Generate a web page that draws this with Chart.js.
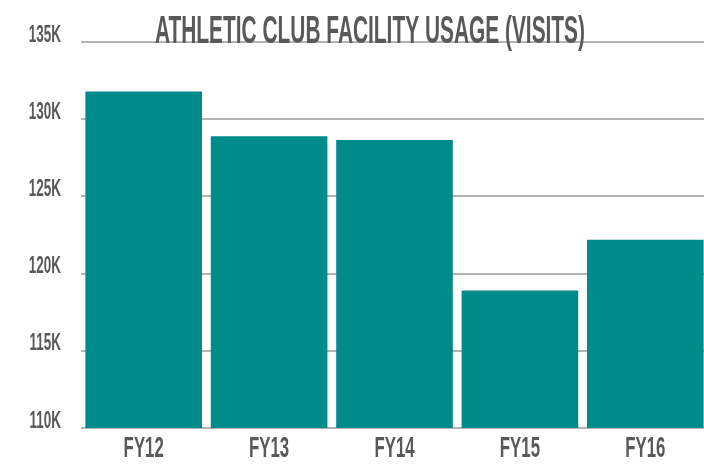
<!DOCTYPE html>
<html>
<head>
<meta charset="utf-8">
<script src="https://cdn.jsdelivr.net/npm/chart.js@4.4.1/dist/chart.umd.min.js"></script>
<style>
  html, body { margin: 0; padding: 0; background: #ffffff; overflow: hidden; }
  #wrap { width: 704px; height: 465px; position: relative; overflow: hidden; }
</style>
</head>
<body>
<div id="wrap"><canvas id="c" width="708" height="465"></canvas></div>
<script>
// ---- data ----
const titleText = 'ATHLETIC CLUB FACILITY USAGE (VISITS)';
const categories = ['FY12', 'FY13', 'FY14', 'FY15', 'FY16'];
const visits = [131800, 128900, 128650, 118900, 122200];
const yMin = 110000;
const yMax = 135000;
const yStep = 5000;

// ---- style ----
const FONT = "'Liberation Sans', Arial, sans-serif";
const TEXT_COLOR = '#58595b';
const BAR_COLOR = '#008b8b';
const GRID_COLOR = '#b4b4b4';
const SX = 0.56; // horizontal condensing of all text

const condensePlugin = {
  id: 'condense',
  beforeInit(chart) {
    const ctx = chart.ctx;
    if (ctx.__condensed) return;
    const orig = ctx.fillText;
    ctx.fillText = function (t, x, y) {
      this.save();
      this.translate(x, y);
      this.scale(SX, 1);
      orig.call(this, t, 0, 0);
      this.restore();
    };
    ctx.__condensed = true;
  }
};

const titlePlugin = {
  id: 'overlayTitle',
  afterDraw(chart) {
    const ctx = chart.ctx;
    ctx.save();
    ctx.font = "bold 38px " + FONT;
    ctx.fillStyle = TEXT_COLOR;
    ctx.textAlign = 'center';
    ctx.textBaseline = 'alphabetic';
    const w = ctx.measureText(titleText).width;
    const k = 430 / (w * SX);
    ctx.translate(370, chart.chartArea.top + 0.5);
    ctx.scale(k, 1);
    ctx.fillText(titleText, 0, 0);
    ctx.restore();
  }
};

new Chart(document.getElementById('c'), {
  type: 'bar',
  data: {
    labels: categories,
    datasets: [{
      data: visits,
      backgroundColor: BAR_COLOR,
      borderWidth: 0,
      barPercentage: 0.93,
      categoryPercentage: 1.0
    }]
  },
  plugins: [condensePlugin, titlePlugin],
  options: {
    responsive: false,
    animation: false,
    devicePixelRatio: 1,
    layout: { padding: { top: 42, right: 0, left: 0, bottom: 0 } },
    plugins: {
      legend: { display: false },
      title: { display: false },
      tooltip: { enabled: false }
    },
    scales: {
      x: {
        grid: { display: false, drawTicks: false },
        border: { display: false },
        ticks: {
          color: TEXT_COLOR,
          font: { family: FONT, size: 30, weight: 'bold' },
          padding: 3,
          maxRotation: 0
        },
        afterFit(scale) { scale.height = 37; }
      },
      y: {
        min: yMin,
        max: yMax,
        grid: { color: GRID_COLOR, lineWidth: 2, drawTicks: false },
        border: { display: false },
        ticks: {
          stepSize: yStep,
          color: TEXT_COLOR,
          font: { family: FONT, size: 24, weight: 'bold' },
          padding: 20,
          labelOffset: -7,
          callback: (v) => (v / 1000) + 'K'
        },
        afterFit(scale) { scale.width = 81; }
      }
    }
  }
});
</script>
</body>
</html>
